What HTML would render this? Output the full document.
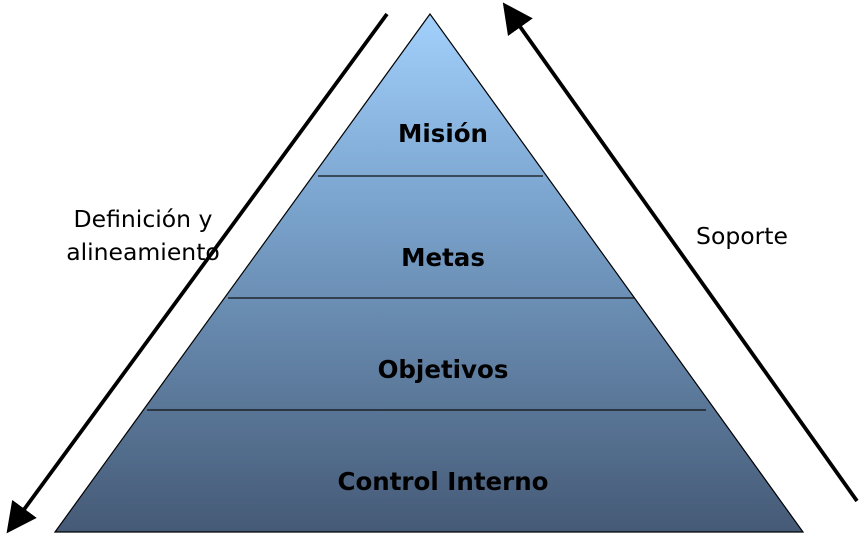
<!DOCTYPE html>
<html><head><meta charset="utf-8"><style>
html,body{margin:0;padding:0;background:#fff;width:865px;height:541px;overflow:hidden}
svg{display:block}
text{font-family:"DejaVu Sans","Liberation Sans",sans-serif}
</style></head><body>
<svg width="865" height="541" viewBox="0 0 865 541" xmlns="http://www.w3.org/2000/svg">
<defs>
<linearGradient id="g" x1="0" y1="0" x2="0" y2="1">
<stop offset="0" stop-color="#a2d0fc"/>
<stop offset="0.35" stop-color="#7ca6d0"/>
<stop offset="1" stop-color="#455a76"/>
</linearGradient>
<marker id="ah" markerWidth="10" markerHeight="10" refX="2" refY="5" orient="auto" markerUnits="strokeWidth">
<path d="M0,1 L8,5 L0,9 z" fill="#000"/>
</marker>
</defs>
<polygon points="430,14 55,532 803,532" fill="url(#g)" stroke="#000" stroke-width="1.2"/>
<line x1="318" y1="176" x2="543" y2="176" stroke="#111" stroke-width="1.3"/>
<line x1="228" y1="298" x2="634" y2="298" stroke="#111" stroke-width="1.3"/>
<line x1="147" y1="410" x2="706" y2="410" stroke="#111" stroke-width="1.3"/>
<line x1="387" y1="14" x2="20" y2="515" stroke="#000" stroke-width="3.8" marker-end="url(#ah)"/>
<line x1="857" y1="501" x2="516" y2="21" stroke="#000" stroke-width="3.8" marker-end="url(#ah)"/>
<g font-weight="bold" font-size="24.5" text-anchor="middle" fill="#000">
<text x="443" y="142">Misión</text>
<text x="443" y="266">Metas</text>
<text x="443" y="378">Objetivos</text>
<text x="443" y="490">Control Interno</text>
</g>
<g font-size="23.5" text-anchor="middle" fill="#000">
<text x="143" y="227">Definición y</text>
<text x="143" y="260">alineamiento</text>
<text x="742" y="244">Soporte</text>
</g>
</svg>
</body></html>
